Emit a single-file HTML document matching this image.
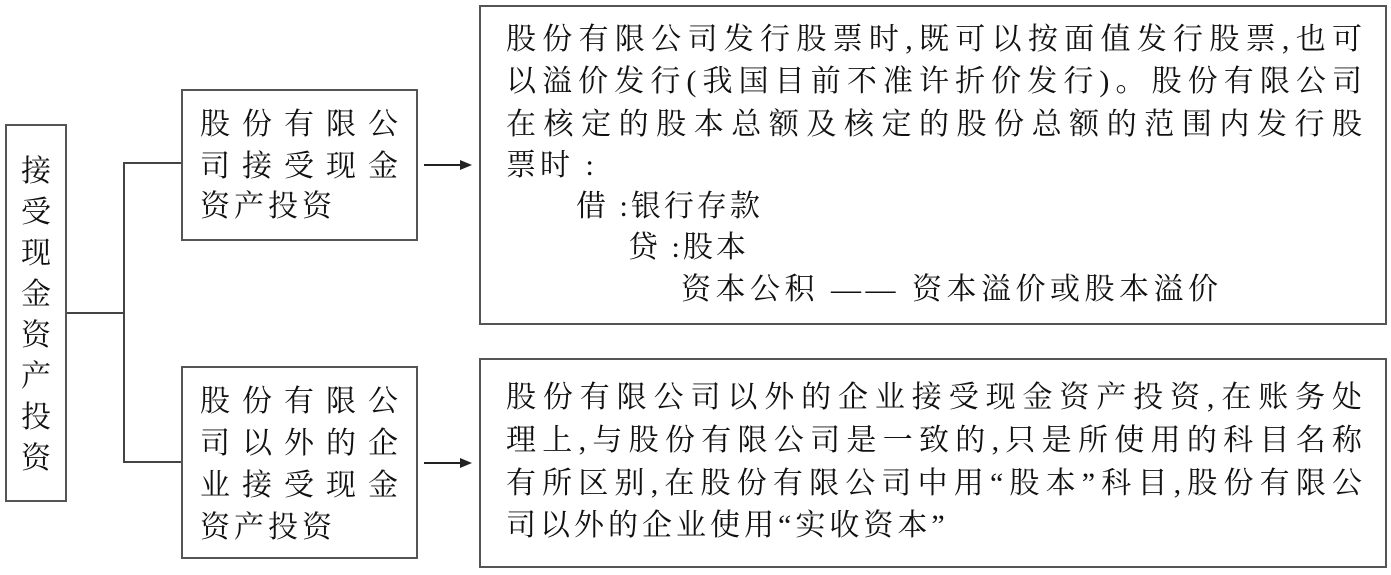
<!DOCTYPE html>
<html><head><meta charset="utf-8"><style>
body{margin:0;background:#fff;width:1391px;height:575px;position:relative;overflow:hidden;font-family:"Liberation Serif","Noto Serif CJK SC",serif;color:#111}
.b{position:absolute;border:2px solid #555;box-sizing:border-box}
.l{position:absolute;background:#444}
.t{position:absolute;font-size:30px;line-height:30px;white-space:nowrap}
.j{text-align:justify;text-align-last:justify}
</style></head><body>
<div class="b" style="left:5px;top:124px;width:62px;height:378px"></div>
<div class="t" style="left:21px;top:151px;width:30px;white-space:normal;line-height:41px">接受现金资产投资</div>
<div class="l" style="left:67px;top:312px;width:57px;height:2px"></div>
<div class="l" style="left:123px;top:162px;width:2px;height:301px"></div>
<div class="l" style="left:123px;top:162px;width:58px;height:2px"></div>
<div class="l" style="left:123px;top:461px;width:58px;height:2px"></div>

<div class="b" style="left:181px;top:89px;width:237px;height:152px"></div>
<div class="t j" style="left:200px;top:110px;width:198px">股份有限公</div>
<div class="t j" style="left:200px;top:152px;width:198px">司接受现金</div>
<div class="t" style="left:200px;top:192px;letter-spacing:4px">资产投资</div>

<div class="b" style="left:181px;top:366px;width:237px;height:193px"></div>
<div class="t j" style="left:200px;top:387px;width:198px">股份有限公</div>
<div class="t j" style="left:200px;top:429px;width:198px">司以外的企</div>
<div class="t j" style="left:200px;top:471px;width:198px">业接受现金</div>
<div class="t" style="left:200px;top:513px;letter-spacing:4px">资产投资</div>

<svg style="position:absolute;left:0;top:0" width="1391" height="575">
<line x1="424" y1="165" x2="468" y2="165" stroke="#222" stroke-width="2"/>
<polygon points="472,165 460,160 460,170" fill="#222"/>
<line x1="424" y1="463" x2="468" y2="463" stroke="#222" stroke-width="2"/>
<polygon points="472,463 460,458 460,468" fill="#222"/>
</svg>

<div class="b" style="left:479px;top:5px;width:908px;height:320px"></div>
<div class="t j" style="left:506px;top:25px;width:856px">股份有限公司发行股票时,既可以按面值发行股票,也可</div>
<div class="t j" style="left:506px;top:67px;width:856px">以溢价发行(我国目前不准许折价发行)。股份有限公司</div>
<div class="t j" style="left:506px;top:110px;width:856px">在核定的股本总额及核定的股份总额的范围内发行股</div>
<div class="t" style="left:506px;top:151px;letter-spacing:4px">票时 :</div>
<div class="t" style="left:576px;top:192px;letter-spacing:3px">借 :银行存款</div>
<div class="t" style="left:628px;top:233px;letter-spacing:3px">贷 :股本</div>
<div class="t" style="left:681px;top:275px;letter-spacing:4.5px">资本公积 —— 资本溢价或股本溢价</div>

<div class="b" style="left:479px;top:358px;width:908px;height:210px"></div>
<div class="t j" style="left:506px;top:383px;width:856px">股份有限公司以外的企业接受现金资产投资,在账务处</div>
<div class="t j" style="left:506px;top:426px;width:856px">理上,与股份有限公司是一致的,只是所使用的科目名称</div>
<div class="t j" style="left:506px;top:469px;width:856px">有所区别,在股份有限公司中用“股本”科目,股份有限公</div>
<div class="t" style="left:506px;top:511px;letter-spacing:4px">司以外的企业使用“实收资本”</div>
</body></html>
